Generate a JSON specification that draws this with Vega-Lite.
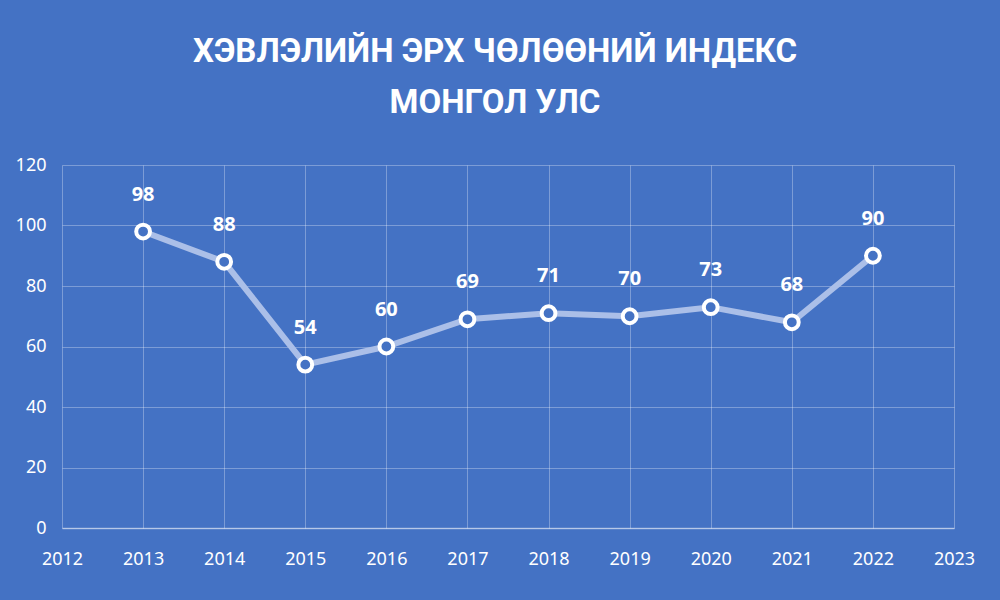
{
  "$schema": "https://vega.github.io/schema/vega-lite/v6.json",
  "autosize": {"type": "none"},
  "width": 892,
  "height": 363,
  "padding": {"left": 62, "top": 165, "right": 46, "bottom": 72},
  "background": "#4472C4",
  "title": {
    "text": ["ХЭВЛЭЛИЙН ЭРХ ЧӨЛӨӨНИЙ ИНДЕКС", "МОНГОЛ УЛС"],
    "font": "Roboto",
    "fontWeight": "bold",
    "fontSize": 33,
    "lineHeight": 51,
    "color": "white",
    "anchor": "middle",
    "frame": "group",
    "dx": -13,
    "offset": 36
  },
  "data": {
    "values": [
      {"year": 2013, "value": 98},
      {"year": 2014, "value": 88},
      {"year": 2015, "value": 54},
      {"year": 2016, "value": 60},
      {"year": 2017, "value": 69},
      {"year": 2018, "value": 71},
      {"year": 2019, "value": 70},
      {"year": 2020, "value": 73},
      {"year": 2021, "value": 68},
      {"year": 2022, "value": 90}
    ]
  },
  "encoding": {
    "x": {
      "field": "year",
      "type": "quantitative",
      "scale": {"domain": [2012, 2023], "nice": false, "zero": false},
      "axis": {
        "values": [2012, 2013, 2014, 2015, 2016, 2017, 2018, 2019, 2020, 2021, 2022, 2023],
        "format": "d",
        "title": null,
        "grid": true,
        "gridColor": "white",
        "gridOpacity": 0.3,
        "ticks": false,
        "domain": true,
        "domainColor": "white",
        "domainOpacity": 0.45,
        "domainWidth": 1.5,
        "labelColor": "white",
        "labelFont": "Noto Sans",
        "labelFontSize": 18,
        "labelPadding": 22,
        "labelFlush": false
      }
    },
    "y": {
      "field": "value",
      "type": "quantitative",
      "scale": {"domain": [0, 120], "nice": false},
      "axis": {
        "values": [0, 20, 40, 60, 80, 100, 120],
        "title": null,
        "grid": true,
        "gridColor": "white",
        "gridOpacity": 0.3,
        "ticks": false,
        "domain": false,
        "labelColor": "white",
        "labelFont": "Noto Sans",
        "labelFontSize": 18,
        "labelPadding": 16
      }
    }
  },
  "layer": [
    {
      "mark": {"type": "line", "color": "#ABBFE8", "strokeWidth": 6}
    },
    {
      "mark": {"type": "point", "shape": "circle", "filled": true, "fill": "#4472C4", "stroke": "white", "strokeWidth": 4, "size": 190, "opacity": 1}
    },
    {
      "mark": {"type": "text", "dy": -37, "color": "white", "font": "Noto Sans", "fontWeight": "bold", "fontSize": 20},
      "encoding": {"text": {"field": "value", "type": "quantitative"}}
    }
  ],
  "config": {"view": {"stroke": null}}
}
